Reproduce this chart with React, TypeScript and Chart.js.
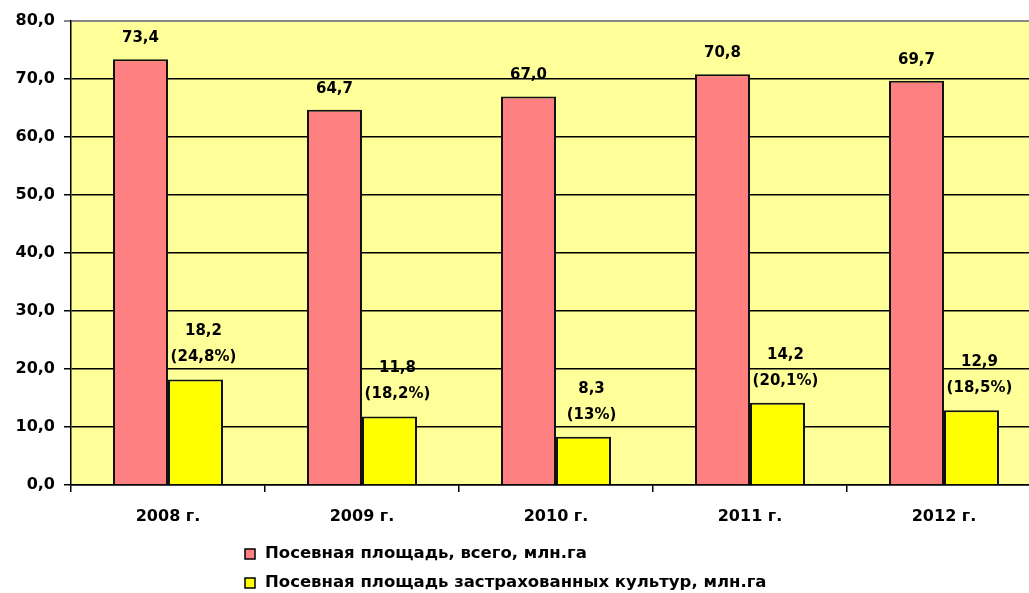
import React, { useEffect, useRef } from "react";
import { Chart, registerables } from "chart.js";

Chart.register(...registerables);

const categories = ["2008 г.", "2009 г.", "2010 г.", "2011 г.", "2012 г."];
const totalArea = [73.4, 64.7, 67.0, 70.8, 69.7];
const insuredArea = [18.2, 11.8, 8.3, 14.2, 12.9];
const insuredShare = ["24,8%", "18,2%", "13%", "20,1%", "18,5%"];
const seriesNames = [
  "Посевная площадь, всего, млн.га",
  "Посевная площадь застрахованных культур, млн.га",
];

const FONT = "'DejaVu Sans', 'Liberation Sans', Arial, sans-serif";
const fmt = (v: number) => v.toFixed(1).replace(".", ",");

const bgPlugin = {
  id: "bgPlugin",
  beforeDraw(chart: any) {
    const { ctx, chartArea } = chart;
    ctx.save();
    ctx.fillStyle = "#FFFF99";
    ctx.fillRect(chartArea.left, chartArea.top, chartArea.right - chartArea.left, chartArea.bottom - chartArea.top);
    ctx.restore();
  },
};

const labelPlugin = {
  id: "labelPlugin",
  afterDatasetsDraw(chart: any) {
    const { ctx } = chart;
    ctx.save();
    ctx.fillStyle = "#000";
    ctx.textAlign = "center";
    ctx.textBaseline = "middle";
    ctx.font = `bold 15px ${FONT}`;
    const m0 = chart.getDatasetMeta(0);
    m0.data.forEach((el: any, i: number) => {
      ctx.fillText(fmt(totalArea[i]), el.x, el.y - 21);
    });
    const m1 = chart.getDatasetMeta(1);
    m1.data.forEach((el: any, i: number) => {
      ctx.fillText(fmt(insuredArea[i]), el.x + 8, el.y - 48);
      ctx.fillText(`(${insuredShare[i]})`, el.x + 8, el.y - 22);
    });
    ctx.restore();
  },
};

const legendPlugin = {
  id: "legendPlugin",
  afterDraw(chart: any) {
    const { ctx } = chart;
    ctx.save();
    ctx.font = `bold 16.5px ${FONT}`;
    ctx.textBaseline = "middle";
    ctx.textAlign = "left";
    chart.data.datasets.forEach((ds: any, i: number) => {
      const y = 554 + i * 29;
      const x = 245;
      ctx.fillStyle = ds.backgroundColor;
      ctx.fillRect(x, y - 5, 10, 10);
      ctx.strokeStyle = "#000";
      ctx.lineWidth = 1.5;
      ctx.strokeRect(x, y - 5, 10, 10);
      ctx.fillStyle = "#000";
      ctx.fillText(ds.label, x + 20, y);
    });
    ctx.restore();
  },
};

export default function App() {
  const ref = useRef<HTMLCanvasElement | null>(null);
  useEffect(() => {
    if (!ref.current) return;
    const chart = new Chart(ref.current, {
      type: "bar",
      data: {
        labels: categories,
        datasets: [
          {
            label: seriesNames[0],
            data: totalArea,
            backgroundColor: "#FF8080",
            borderColor: "#111",
            borderWidth: 2,
            categoryPercentage: 0.567,
            barPercentage: 1,
          },
          {
            label: seriesNames[1],
            data: insuredArea,
            backgroundColor: "#FFFF00",
            borderColor: "#111",
            borderWidth: 2,
            categoryPercentage: 0.567,
            barPercentage: 1,
          },
        ],
      },
      options: {
        animation: false,
        responsive: false,
        layout: { padding: { top: 21, right: 9, left: 0, bottom: 0 } },
        plugins: { legend: { display: false }, tooltip: { enabled: false } },
        scales: {
          x: {
            grid: {
              drawOnChartArea: false,
              offset: true,
              tickLength: 7,
              color: "#000",
              lineWidth: 1.5,
            },
            border: { display: true, color: "#000", width: 1.5 },
            ticks: {
              color: "#000",
              font: { family: FONT, size: 16, weight: "bold" },
              padding: 15,
            },
            afterFit: (s: any) => {
              s.height = 108;
            },
          },
          y: {
            min: 0,
            max: 80,
            ticks: {
              stepSize: 10,
              color: "#000",
              font: { family: FONT, size: 16, weight: "bold" },
              padding: 9,
              callback: (v: any) => fmt(Number(v)),
            },
            grid: {
              color: (c: any) => (c.tick && c.tick.value === 80 ? "#888" : "#000"),
              lineWidth: (c: any) => (c.tick && c.tick.value === 80 ? 2 : 1.5),
              tickLength: 7,
            },
            border: { display: true, color: "#000", width: 1.5 },
            afterFit: (s: any) => {
              s.width = 71;
            },
          },
        },
      },
      plugins: [bgPlugin, labelPlugin, legendPlugin],
    });
    return () => chart.destroy();
  }, []);
  return (
    <div
      style={{
        position: "fixed",
        left: 0,
        top: 0,
        width: 1029,
        height: 593,
        overflow: "hidden",
        background: "#fff",
      }}
    >
      <canvas ref={ref} width={1050} height={593} style={{ width: 1050, height: 593, display: "block" }} />
    </div>
  );
}
